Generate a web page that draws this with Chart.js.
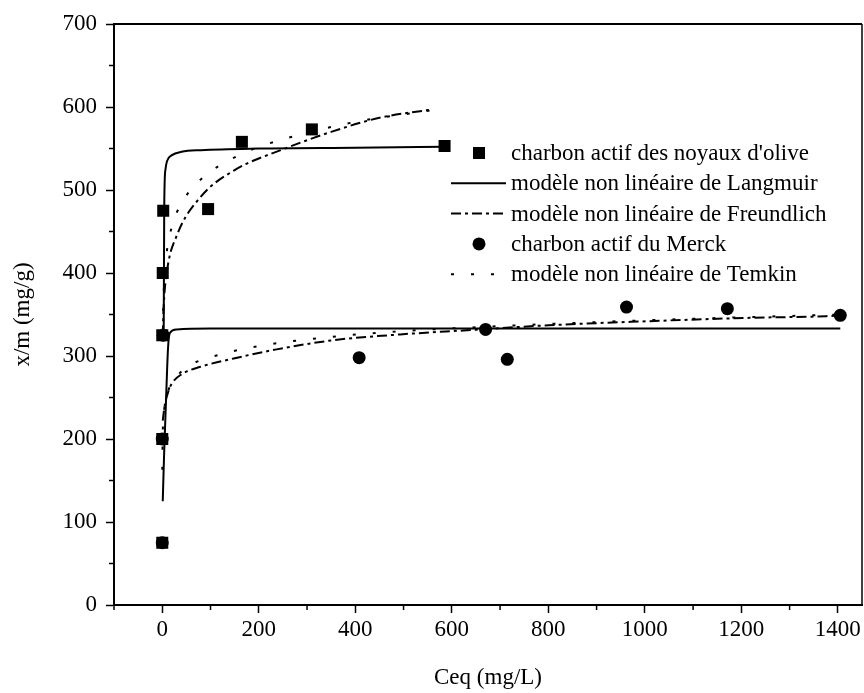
<!DOCTYPE html>
<html>
<head>
<meta charset="utf-8">
<script src="https://cdn.jsdelivr.net/npm/chart.js@4.4.1/dist/chart.umd.min.js"></script>
<style>
  body { margin: 0; background: #fff; }
  canvas { display: block; }
</style>
</head>
<body>
<canvas id="isotherm" width="864" height="693"></canvas>
<script>
// measured points - charbon actif des noyaux d'olive (squares)
const oliveCeq = [0, 0, 0, 1, 2, 95, 165, 310, 585];
const oliveQ = [75, 200, 325, 400, 475, 477, 558, 573, 553];

// measured points - charbon actif du Merck (circles)
const merckCeq = [0, 0, 2, 408, 670, 715, 962, 1171, 1405];
const merckQ = [75, 200, 325, 298, 332, 296, 359, 357, 349];

// fitted curves, olive
const langOliveC = [3, 4, 5, 7, 10, 20, 40, 80, 200, 400, 585];
const langOliveQ = [330, 470, 510, 526, 535, 542, 546, 548, 550, 551, 552];
const freuOliveC = [1, 3, 10, 30, 80, 150, 250, 350, 450, 558];
const freuOliveQ = [325, 360, 403, 445, 492, 524, 549, 570, 587, 597];
const temOliveC = [1, 3, 8, 20, 40, 75, 120, 160, 200, 250, 300, 400, 558];
const temOliveQ = [330, 376, 418, 456, 484, 510, 530, 542, 552, 561, 569, 582, 596];

// fitted curves, Merck
const langMerckC = [1, 4, 8, 12, 16, 30, 100, 1405];
const langMerckQ = [125, 185, 250, 310, 328, 332, 333, 333];
const freuMerckC = [1, 5, 13, 20, 40, 79, 148, 237, 354, 493, 631, 800, 1010, 1217, 1376, 1405];
const freuMerckQ = [222, 240, 258, 267, 278, 287, 297, 308, 319, 326, 331, 337, 342, 346, 348, 349];
const temMerckC = [0.1, 1, 3, 10, 30, 58, 103, 200, 350, 500, 700, 1000, 1405];
const temMerckQ = [163, 206, 229, 253, 275, 289, 299, 312, 323, 330, 336, 343, 350];

// tick labels on the x axis
const xTickLabels = [0, 200, 400, 600, 800, 1000, 1200, 1400];

// legend labels
const legendLabels = [
    "charbon actif des noyaux d'olive",
    "modèle non linéaire de Langmuir",
    "modèle non linéaire de Freundlich",
    "charbon actif du Merck",
    "modèle non linéaire de Temkin"
];

const FONT = "'Liberation Serif', 'Times New Roman', serif";
const FSIZE = 23;
const dashDot = [10, 4, 3, 4];
const dotted = [3, 17];

function pts(xs, ys) {
    return xs.map((x, i) => ({ x: x, y: ys[i] }));
}

function curve(xs, ys, dash, legendIdx) {
    return {
        type: 'line',
        data: pts(xs, ys),
        borderColor: '#000',
        borderWidth: 2,
        borderDash: dash,
        pointRadius: 0,
        fill: false,
        cubicInterpolationMode: 'monotone',
        order: 2,
        legendIdx: legendIdx
    };
}

const datasets = [
    {
        type: 'scatter',
        data: pts(oliveCeq, oliveQ),
        pointStyle: 'rect',
        pointRadius: 8.5,
        backgroundColor: '#000',
        borderColor: '#000',
        borderWidth: 0,
        order: 0,
        legendIdx: 0
    },
    curve(langOliveC, langOliveQ, [], 1),
    curve(freuOliveC, freuOliveQ, dashDot, 2),
    {
        type: 'scatter',
        data: pts(merckCeq, merckQ),
        pointStyle: 'circle',
        pointRadius: 6.5,
        backgroundColor: '#000',
        borderColor: '#000',
        borderWidth: 0,
        order: 1,
        legendIdx: 3
    },
    curve(temOliveC, temOliveQ, dotted, 4),
    curve(langMerckC, langMerckQ, [], -1),
    curve(freuMerckC, freuMerckQ, dashDot, -1),
    curve(temMerckC, temMerckQ, dotted, -1)
];

// frame, minor ticks, x labels and the legend inside the plot
const decorations = {
    id: 'decorations',
    afterDraw(chart) {
        const ctx = chart.ctx;
        const a = chart.chartArea;
        const xs = chart.scales.x;
        const ys = chart.scales.y;
        ctx.save();
        ctx.strokeStyle = '#000';

        // top and right frame
        ctx.lineWidth = 2;
        ctx.beginPath();
        ctx.moveTo(a.left, a.top);
        ctx.lineTo(a.right, a.top);
        ctx.stroke();
        ctx.lineWidth = 1.5;
        ctx.beginPath();
        ctx.moveTo(a.right, a.top);
        ctx.lineTo(a.right, a.bottom);
        ctx.stroke();

        // minor ticks
        ctx.lineWidth = 1.5;
        for (let v = -100; v <= 1400; v += 200) {
            const px = xs.getPixelForValue(v);
            ctx.beginPath();
            ctx.moveTo(px, a.bottom);
            ctx.lineTo(px, a.bottom + 5);
            ctx.stroke();
        }
        for (let v = 50; v < 700; v += 100) {
            const py = ys.getPixelForValue(v);
            ctx.beginPath();
            ctx.moveTo(a.left, py);
            ctx.lineTo(a.left - 5, py);
            ctx.stroke();
        }

        ctx.font = FSIZE + 'px ' + FONT;
        ctx.fillStyle = '#000';

        // x tick labels
        ctx.textAlign = 'center';
        ctx.textBaseline = 'top';
        xTickLabels.forEach(v => {
            ctx.fillText(String(v), xs.getPixelForValue(v), a.bottom + 13);
        });

        // legend
        const lx = a.left + 337;
        const ly = a.top + 129;
        const rowH = 30.3;
        ctx.textAlign = 'left';
        ctx.textBaseline = 'middle';
        chart.data.datasets.forEach(ds => {
            if (ds.legendIdx < 0) return;
            const y = ly + ds.legendIdx * rowH;
            if (ds.type === 'scatter') {
                if (ds.pointStyle === 'rect') {
                    ctx.fillRect(lx + 22, y - 6, 12, 12);
                } else {
                    ctx.beginPath();
                    ctx.arc(lx + 28, y, 6.5, 0, Math.PI * 2);
                    ctx.fill();
                }
            } else {
                ctx.lineWidth = 2;
                ctx.setLineDash(ds.borderDash);
                ctx.beginPath();
                ctx.moveTo(lx, y);
                ctx.lineTo(lx + 55, y);
                ctx.stroke();
                ctx.setLineDash([]);
            }
            ctx.fillText(legendLabels[ds.legendIdx], lx + 60, y + 1);
        });
        ctx.restore();
    }
};

new Chart(document.getElementById('isotherm'), {
    type: 'scatter',
    data: { datasets: datasets },
    options: {
        responsive: false,
        animation: false,
        devicePixelRatio: 1,
        layout: { autoPadding: false, padding: { top: 24, right: 2, left: 0, bottom: 0 } },
        plugins: {
            legend: { display: false },
            tooltip: { enabled: false }
        },
        scales: {
            x: {
                type: 'linear',
                min: -100,
                max: 1450,
                afterFit: scale => { scale.height = 88; },
                ticks: {
                    stepSize: 200,
                    includeBounds: false,
                    display: false
                },
                grid: {
                    drawOnChartArea: false,
                    tickLength: 8,
                    tickWidth: 1.5,
                    tickColor: '#000'
                },
                border: { color: '#000', width: 2 },
                title: {
                    display: true,
                    text: 'Ceq (mg/L)',
                    color: '#000',
                    font: { family: FONT, size: FSIZE },
                    padding: { top: 4, bottom: 1 }
                }
            },
            y: {
                type: 'linear',
                min: 0,
                max: 700,
                afterFit: scale => { scale.width = 114; },
                ticks: {
                    stepSize: 100,
                    padding: 9,
                    color: '#000',
                    font: { family: FONT, size: FSIZE },
                    callback: v => String(v)
                },
                grid: {
                    drawOnChartArea: false,
                    tickLength: 8,
                    tickWidth: 1.5,
                    tickColor: '#000'
                },
                border: { color: '#000', width: 2 },
                title: {
                    display: true,
                    text: 'x/m (mg/g)',
                    color: '#000',
                    font: { family: FONT, size: FSIZE },
                    padding: { top: 9, bottom: 0 }
                }
            }
        }
    },
    plugins: [decorations]
});
</script>
</body>
</html>
